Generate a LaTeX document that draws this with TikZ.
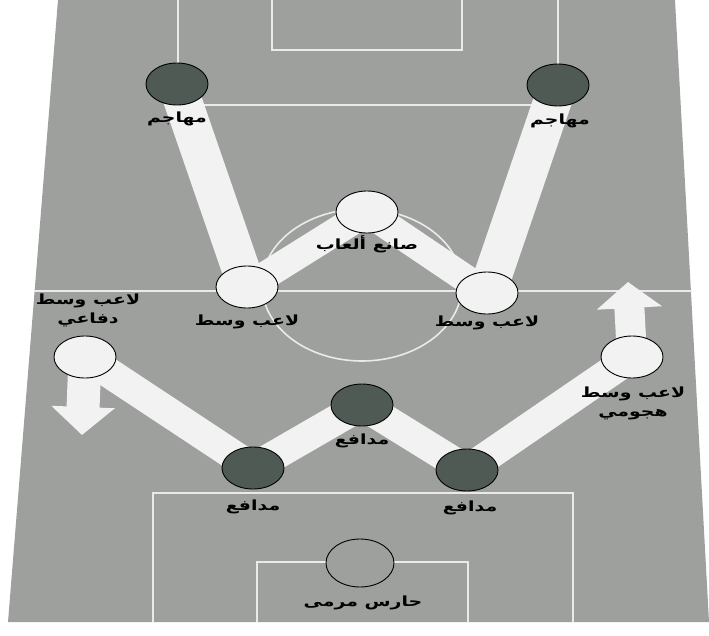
\documentclass[tikz,border=0pt]{standalone}
\usepackage{fontspec}
\newfontfamily\arabicfont[Script=Arabic]{DejaVu Sans}
\TeXXeTstate=1
\usetikzlibrary{arrows.meta,shapes.geometric}
\pgfdeclarelayer{pitch}
\pgfdeclarelayer{bands}
\pgfsetlayers{pitch,bands,main}
\definecolor{grass}{RGB}{158,160,158}
\definecolor{shirt}{RGB}{80,90,85}
\definecolor{chalk}{RGB}{242,242,242}
\newcommand{\ar}[1]{\scalebox{1.35}[1]{\arabicfont\bfseries\beginR #1\endR}}

\begin{document}
\begin{tikzpicture}[
    x=1pt, y=-1pt,
    player/.style={ellipse, draw=black, line width=0.9pt,
                   minimum width=62pt, minimum height=42pt, inner sep=0pt},
    light/.style={player, fill=chalk},
    dark/.style={player, fill=shirt},
    keeper/.style={player, fill=grass, minimum width=68pt, minimum height=48pt},
    plabel/.style={font=\fontsize{14}{17}\selectfont, align=center, inner sep=1pt},
    band/.style={draw=chalk, line width=#1, line cap=butt},
    band/.default=30pt,
    mline/.style={draw=chalk!90!grass, line width=1.6pt}
  ]
  \useasboundingbox (0,0) rectangle (709,635);

  %% ── Pitch ──
  \begin{pgfonlayer}{pitch}
    \fill[grass] (58,0) -- (675,0) -- (709,622) -- (8,622) -- cycle;
    \draw[mline] (178,0) -- (178,105) -- (558,105) -- (558,0);
    \draw[mline] (272,0) -- (272,50) -- (462,50) -- (462,0);
    \draw[mline] (34,291) -- (692,291);
    \draw[mline] (362,285) ellipse [x radius=100, y radius=76];
    \draw[mline] (153,622) -- (153,493) -- (573,493) -- (573,622);
    \draw[mline] (257,622) -- (257,562) -- (468,562) -- (468,622);
  \end{pgfonlayer}

  %% ── Players ──
  \node[dark]   (attl) at (177, 84) {};
  \node[dark]   (attr) at (558, 85) {};
  \node[light]  (pm)   at (367,212) {};
  \node[light]  (midl) at (247,287) {};
  \node[light]  (midr) at (487,293) {};
  \node[light]  (ldm)  at ( 85,357) {};
  \node[light]  (ram)  at (632,357) {};
  \node[dark]   (defc) at (362,405) {};
  \node[dark]   (defl) at (253,468) {};
  \node[dark]   (defr) at (467,470) {};
  \node[keeper] (gk)   at (360,563) {};

  \coordinate (ldmtip) at ( 82,435);
  \coordinate (ramtip) at (628,282);

  %% ── Labels ──
  \node[plabel] (lattl) at (177,119) {\ar{مهاجم}};
  \node[plabel] (lattr) at (560,121) {\ar{مهاجم}};
  \node[plabel] (lpm)   at (367,244) {\ar{صانع ألعاب}};
  \node[plabel] (lmidl) at (247,322) {\ar{لاعب وسط}};
  \node[plabel] (lmidr) at (487,323) {\ar{لاعب وسط}};
  \node[plabel] (lldm)  at ( 88,310) {\ar{لاعب وسط}\\[2pt]\ar{دفاعي}};
  \node[plabel] (lram)  at (633,403) {\ar{لاعب وسط}\\[2pt]\ar{هجومي}};
  \node[plabel] (ldefc) at (362,441) {\ar{مدافع}};
  \node[plabel] (ldefl) at (253,507) {\ar{مدافع}};
  \node[plabel] (ldefr) at (470,508) {\ar{مدافع}};
  \node[plabel] (lgk)   at (363,603) {\ar{حارس مرمى}};

  %% ── Passing lanes ──
  \begin{pgfonlayer}{bands}
    \draw[band=38pt] (attl.center) -- (midl.center);
    \draw[band=38pt] (attr.center) -- (midr.center);
    \draw[band=28pt] (pm.center) -- (midl.center);
    \draw[band=28pt] (pm.center) -- (midr.center);
    \draw[band] (ldm.center) -- (defl.center);
    \draw[band] (defl.center) -- (defc.center);
    \draw[band] (defc.center) -- (defr.center);
    \draw[band] (defr.center) -- (ram.center);
    \draw[band=33pt, -{Triangle[width=62pt,length=28pt]}] (ldm.center) -- (ldmtip);
    \draw[band=30pt, -{Triangle[width=64pt,length=26pt]}] (ram.center) -- (ramtip);
  \end{pgfonlayer}

\end{tikzpicture}
\end{document}
